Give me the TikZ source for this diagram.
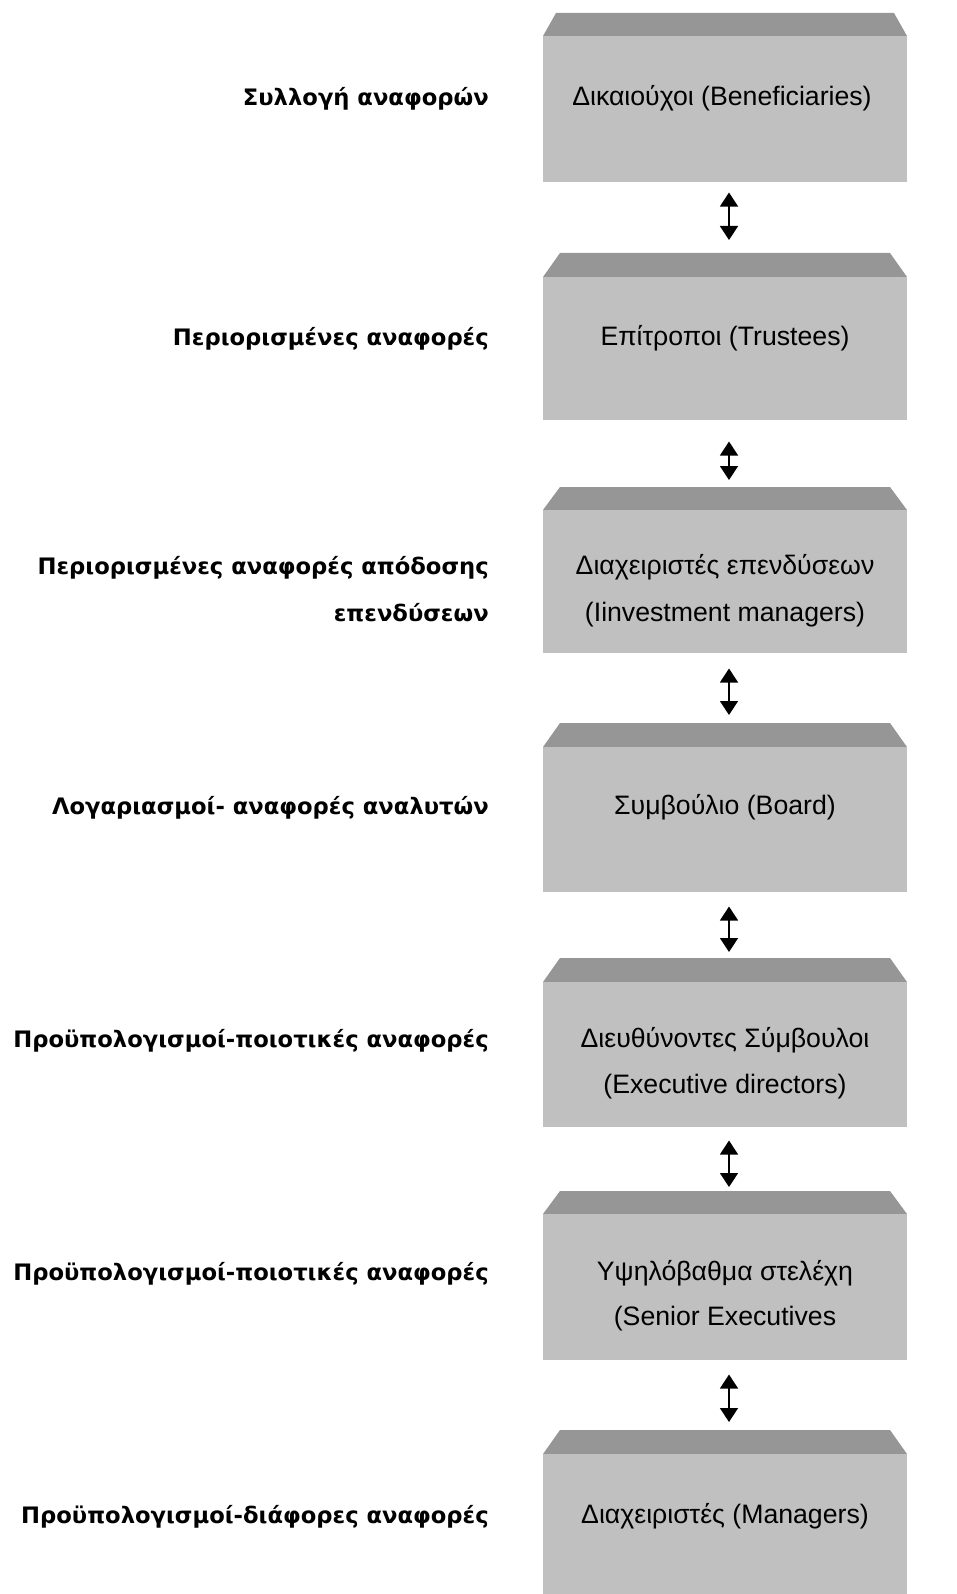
\documentclass[tikz,border=0pt]{standalone}
\usepackage{fontspec}
\setmainfont{Liberation Sans}
\newfontfamily\lblfont{DejaVu Sans}
\usetikzlibrary{arrows.meta}
\definecolor{boxgray}{RGB}{192,192,192}
\definecolor{bevelgray}{RGB}{150,150,150}
\begin{document}
\begin{tikzpicture}[x=0.75pt,y=-0.75pt,
  body/.style={fill=boxgray, draw=none, minimum width=273pt, inner sep=0pt, anchor=north},
  boxtext/.style={font=\fontsize{20}{24}\selectfont, anchor=base, inner sep=0pt},
  lbl/.style={font=\lblfont\bfseries\fontsize{17}{20}\selectfont, anchor=base east, inner sep=0pt},
  dbl/.style={{Triangle[width=13.5pt,length=10.5pt]}-{Triangle[width=13.5pt,length=10.5pt]}, line width=1.1pt}
]
\useasboundingbox (0,0) rectangle (956,1594);
\fill[white] (0,0) rectangle (956,1594);

% box 1
\fill[bevelgray] (543,36) -- (556,13) -- (894,13) -- (907,36) -- cycle;
\node[body, minimum height=109.5pt] (b1) at (725,36) {};
\coordinate (top1) at (729,13);
% box 2
\fill[bevelgray] (543,277) -- (560,253) -- (890,253) -- (907,277) -- cycle;
\node[body, minimum height=107.25pt] (b2) at (725,277) {};
\coordinate (top2) at (729,253);
% box 3
\fill[bevelgray] (543,510) -- (560,487) -- (890,487) -- (907,510) -- cycle;
\node[body, minimum height=107.25pt] (b3) at (725,510) {};
\coordinate (top3) at (729,487);
% box 4
\fill[bevelgray] (543,747) -- (560,723) -- (890,723) -- (907,747) -- cycle;
\node[body, minimum height=108.75pt] (b4) at (725,747) {};
\coordinate (top4) at (729,723);
% box 5
\fill[bevelgray] (543,982) -- (560,958) -- (890,958) -- (907,982) -- cycle;
\node[body, minimum height=108.75pt] (b5) at (725,982) {};
\coordinate (top5) at (729,958);
% box 6
\fill[bevelgray] (543,1214) -- (560,1191) -- (890,1191) -- (907,1214) -- cycle;
\node[body, minimum height=109.5pt] (b6) at (725,1214) {};
\coordinate (top6) at (729,1191);
% box 7
\fill[bevelgray] (543,1454) -- (560,1430) -- (890,1430) -- (907,1454) -- cycle;
\node[body, minimum height=105pt] (b7) at (725,1454) {};
\coordinate (top7) at (729,1430);

% arrows
\draw[dbl, shorten <=7.5pt, shorten >=9.75pt] ([xshift=3pt]b1.south) -- (top2);
\draw[dbl, shorten <=15.75pt, shorten >=5.25pt] ([xshift=3pt]b2.south) -- (top3);
\draw[dbl, shorten <=11.25pt, shorten >=6pt] ([xshift=3pt]b3.south) -- (top4);
\draw[dbl, shorten <=10.5pt, shorten >=4.5pt] ([xshift=3pt]b4.south) -- (top5);
\draw[dbl, shorten <=9.75pt, shorten >=3pt] ([xshift=3pt]b5.south) -- (top6);
\draw[dbl, shorten <=10.5pt, shorten >=6pt] ([xshift=3pt]b6.south) -- (top7);

% box texts
\node[boxtext] (t1) at (722,106) {Δικαιούχοι (Beneficiaries)};
\node[boxtext] (t2) at (725,345) {Επίτροποι (Trustees)};
\node[boxtext] (t3a) at (725,574) {Διαχειριστές επενδύσεων};
\node[boxtext] (t3b) at (725,621) {(Iinvestment managers)};
\node[boxtext] (t4) at (725,814) {Συμβούλιο (Board)};
\node[boxtext] (t5a) at (725,1047) {Διευθύνοντες Σύμβουλοι};
\node[boxtext] (t5b) at (725,1093) {(Executive directors)};
\node[boxtext] (t6a) at (725,1280) {Υψηλόβαθμα στελέχη};
\node[boxtext] (t6b) at (725,1325) {(Senior Executives};
\node[boxtext] (t7) at (725,1523) {Διαχειριστές (Managers)};

% left labels
\node[lbl] (l1) at (489,106) {Συλλογή αναφορών};
\node[lbl] (l2) at (489,345) {Περιορισμένες αναφορές};
\node[lbl] (l3a) at (489,574) {Περιορισμένες αναφορές απόδοσης};
\node[lbl] (l3b) at (489,621) {επενδύσεων};
\node[lbl] (l4) at (489,814) {Λογαριασμοί- αναφορές αναλυτών};
\node[lbl] (l5) at (489,1047) {Προϋπολογισμοί-ποιοτικές αναφορές};
\node[lbl] (l6) at (489,1280) {Προϋπολογισμοί-ποιοτικές αναφορές};
\node[lbl] (l7) at (489,1523) {Προϋπολογισμοί-διάφορες αναφορές};
\end{tikzpicture}
\end{document}
